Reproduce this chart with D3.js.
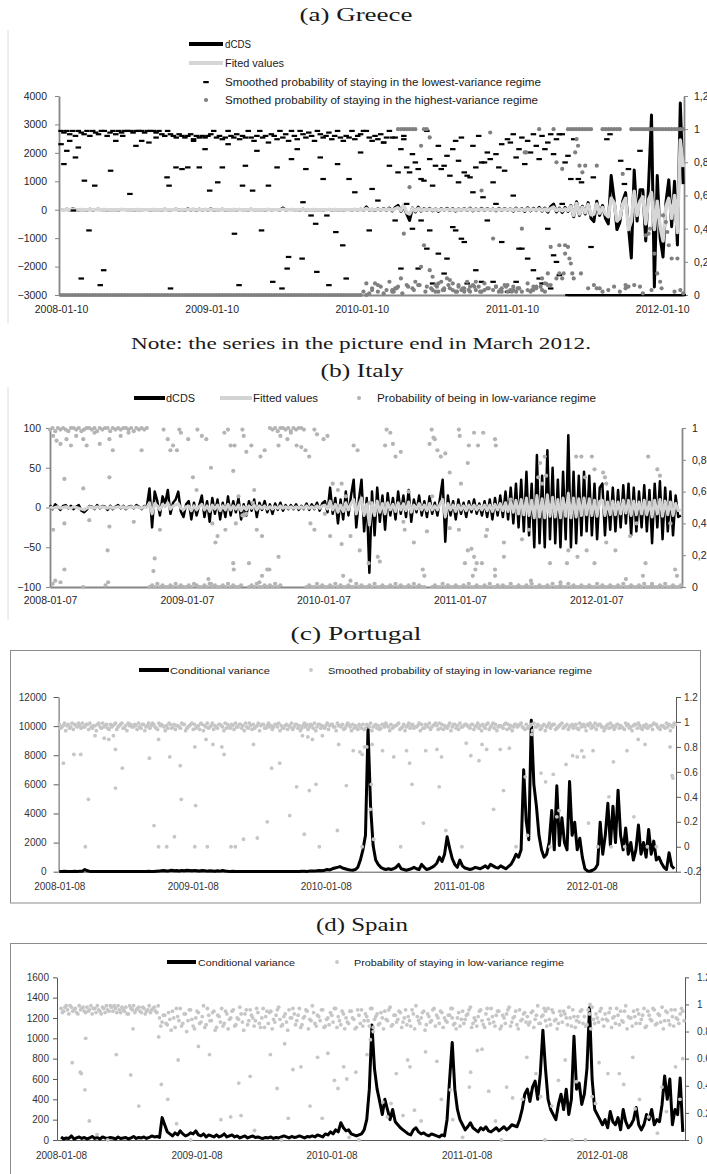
<!DOCTYPE html>
<html>
<head>
<meta charset="utf-8">
<script src="https://cdn.jsdelivr.net/npm/d3@7"></script>
<style>
  body { margin: 0; background: #fff; }
  svg { display: block; }
</style>
</head>
<body>
<svg id="chart" width="707" height="1174"></svg>
<script>

// (a) Greece, weekly from 2008-01-10
const grStart = '2008-01-10';
const grDcds = [10,-5,20,-10,30,5,-15,10,0,-8,
  15,-10,5,20,-5,10,-12,8,0,5, -10,12,5,-5,8,0,-6,10,-4,6,
  4,-8,10,-2,6,-10,14,0,-6,8, 20,-15,10,-20,30,-10,15,-25,20,-8,
  12,-10,25,-18,10,-6,15,-12,8,0, 10,-8,12,-5,6,-10,15,-6,8,-4,
  5,-10,12,-6,4,8,-8,60,-10,6, 10,-6,8,-12,15,-8,6,-4,10,-6,
  8,-10,6,12,-8,10,-6,4,-10,8, 6,-8,12,-10,20,-15,100,-20,15,-30,
  30,-20,40,-25,60,-40,80,150,-60,120, -150,-380,60,-80,90,-50,40,-30,50,-40,
  30,-60,40,-20,50,-30,40,-50,30,-20, 40,-30,60,-40,30,-25,50,-30,40,-20,
  30,-40,50,-30,40,-20,30,-50,60,-30, 40,-60,70,-40,50,-30,80,-50,60,-90,
  110,200,-80,60,-100,80,-60,150,-250,280, -200,120,-150,250,-300,-420,300,-200,150,-300,
  -500,1200,400,-700,-450,300,600,-600,-1700,1400, -400,700,700,-1100,900,3330,-2720,1200,-1000,-1660,
  250,1050,-600,1000,-1240,3750,900];
const grFit = [5,0,8,-3,10,2,-5,4,0,-3,
  6,-4,2,8,-2,4,-5,3,0,2, -4,5,2,-2,3,0,-2,4,-2,2,
  2,-3,4,-1,2,-4,5,0,-2,3, 8,-6,4,-8,12,-4,6,-10,8,-3,
  5,-4,10,-7,4,-2,6,-5,3,0, 4,-3,5,-2,2,-4,6,-2,3,-2,
  2,-4,5,-2,2,3,-3,20,-4,2, 4,-2,3,-5,6,-3,2,-2,4,-2,
  3,-4,2,5,-3,4,-2,2,-4,3, 2,-3,5,-4,8,-6,40,-8,6,-12,
  12,-8,16,-10,25,-15,30,70,-30,180, -100,-150,40,-40,40,-20,15,-12,20,-15,
  12,-25,15,-8,20,-12,15,-20,12,-8, 15,-12,25,-15,12,-10,20,-12,15,-8,
  12,-15,20,-12,15,-8,12,-20,25,-12, 15,-25,30,-15,20,-12,30,-20,25,-35,
  40,90,-30,25,-40,30,-25,120,-200,220, -150,80,-100,180,-180,-150,200,-120,80,-150,
  -250,400,250,-400,-300,200,400,-700,-400,650, -200,300,450,-500,350,600,-700,300,-600,-1100,
  100,400,-300,500,-800,2450,1500];
// smoothed probability of the lowest-variance regime (dashes)
const grLow = [0.99,0.98,0.99,0.97,0.99,0.96,0.99,0.98,0.97,0.99,
  0.96,0.99,0.98,0.97,0.99,0.99,0.96,0.98,0.99,0.97, 0.99,0.98,0.99,0.99,0.99,0.98,0.99,0.99,0.99,0.98,
  0.99,0.99,0.99,0.98,0.99,0.97,0.96,0.99,0.97,0.96, 0.95,0.97,0.96,0.95,0.96,0.97,0.94,0.96,0.95,0.96,
  0.95,0.96,0.97,0.99,0.95,0.96,0.94,0.95,0.99,0.96, 0.95,0.97,0.94,0.96,0.95,0.99,0.95,0.93,0.96,0.99,
  0.95,0.96,0.92,0.97,0.96,0.94,0.99,0.95,0.97,0.93, 0.99,0.96,0.94,0.99,0.97,0.95,0.98,0.96,0.93,0.99,
  0.97,0.95,0.96,0.98,0.94,0.96,0.99,0.95,0.93,0.96, 0.95,0.99,0.94,0.96,0.97,0.99,0.99,0.95,0.93,0.96,
  0.94,0.97,0.92,0.95,0.99,0.95,0.95,0.74,0.88,0.96, 0.77,0.74,0.85,0.8,0.76,0.7,0.69,0.99,0.82,0.66,
  0.78,0.9,0.76,0.78,0.84,0.72,0.88,0.93,0.81,0.95, 0.74,0.72,0.71,0.9,0.77,0.96,0.8,0.8,0.86,0.82,
  0.68,0.85,0.77,0.91,0.75,0.94,0.92,0.97,0.83,0.88, 0.95,0.79,0.93,0.86,0.97,0.9,0.82,0.96,0.88,0.92,
  0.97,0.85,0.94,0.97,0.97,0.8,0,0,0,0, 0,0,0,0,0,0,0,0,0,0,
  0,0,0,0,0,0,0,0,0,0, 0,0,0,0,0,0,0,0,0,0, 0,0,0,0,0,0,0];
const grLowExtra = [[0,0.91],[1,0.79],[2,0.87],[3,0.93],[4.3,0.51],[5,0.83],[6,0.89],[7,0.1],[8.1,0.69],
  [9.7,0.39],[11.7,0.66],[13.6,0.06],[14.8,0.15],[17.2,0.75],[19,0.93],[21.4,0.96],[23.9,0.61],[26,0.9],
  [28,0.93],[30.5,0.92],[33,0.95],[36.8,0.71],[37.5,0.66],[38,0.04],[39.9,0.77],[42,0.76],[44,0.77],
  [46,0.93],[48,0.77],[50,0.88],[51.6,0.63],[54.4,0.68],[56,0.77],[58,0.91],[60.2,0.37],[61.8,0.06],
  [63,0.66],[64,0.78],[66.5,0.63],[68,0.87],[69.6,0.39],[72,0.66],[73.5,0.08],[75,0.77],[76.7,0.04],
  [78.5,0.16],[79,0.23],[80,0.82],[82,0.88],[83.7,0.22],[84,0.56],[85,0.76],[86.8,0.48],[88.4,0.43],
  [88.8,0.14],[90,0.83],[91,0.7],[92.3,0.48],[93,0.06],[95.4,0.38],[96,0.79],[97.8,0.3],[99,0.1],
  [100,0.7],[102,0.62],[104,0.86],[107,0.39],[108,0.64],[110,0.57],[112,0.92],[114,0.78],[116,0.45],
  [118,0.16],[119,0.94],[120,0.55],[122,0.4],[124,0.16],[125,0.45],[127,0.28],[128,0.39],[129,0.07],
  [131,0.25],[133,0.13],[134,0.22],[136,0.41],[137,0.39],[138,0.68],[139,0.34],[140,0.32],[141,0.07],
  [143,0.62],[144,0.15],[146,0.08],[146.5,0.59],[148,0.45],[150,0.08],[151,0.55],[153,0.32],[155,0.02],
  [157,0.6],[158,0.08],[159,0.28],[160,0.28],[162,0.22],[164,0.15],[166,0.1],[167,0.07],[168,0.07],
  [169,0.4],[170,0.04],[171,0.24],[172,0.2],[173,0.12],[174,0.55],[176,0.84],[177,0.7],[178,0.94],
  [179.6,0.7],[180.7,0.68],[184,0.29],[184.8,0.71],[189.5,0.94],[190.6,0.97],[194.3,0.81],[195.6,0.67],
  [197,0.76],[201,0.87]];
// smoothed probability of the highest-variance regime (dots)
const grHigh = [0,0,0,0,0,0,0,0,0,0, 0,0,0,0,0,0,0,0,0,0, 0,0,0,0,0,0,0,0,0,0,
  0,0,0,0,0,0,0,0,0,0, 0,0,0,0,0,0,0,0,0,0, 0,0,0,0,0,0,0,0,0,0,
  0,0,0,0,0,0,0,0,0,0, 0,0,0,0,0,0,0,0,0,0, 0,0,0,0,0,0,0,0,0,0,
  0,0,0,0,0,0,0,0,0,0, 0,0,0,0,0,
  0.02,0,0.01,0.04,0.07,0.02,0.05,0.01,0.03,0.08,0.02,0.04,
  1,1,1,1,1,1,1, 0.06,0.9,1,1,0.95,0.03,
  0.06,0.02,0.08,0.03,0.1,0.04,0.07,0.02,0.05,0.03, 0.04,0.08,0.02,0.06,0.03,0.05,0.02,0.07,0.04,0.98,
  0.03,0.05,0.02,0.04,0.06,0.02,0.03,0.05,0.02,0.04, 0.4,0.86,0.03,0.02,0.05,0.04,1,0.03,0.02,0.06,
  0.29,1,0.8,0.13,0.1,0.3,1,1,1,1, 1,1,1,1,1,0.06,0.78,0.04,1,1,
  1,1,1,1,1,0.73,0.06,0.05,1,1, 1,1,1,1,1,1,1,1,1,1, 1,1,1,1,1,1,1];
const grHighExtra = [[106,0.07],[108,0.03],[110,0.06],[115,0.03],[115.5,0.02],[116.5,0.04],[117,0.05],
  [118,0.1],[118.5,0.01],[119,0.37],[120,0.06],[120.5,0.05],[121,0.65],[122,0.04],[122.5,0.03],[123,0.08],
  [124.5,0.06],[125,0.17],[126,0.3],[126.5,0.02],[127,0.05],[128,0.15],[128.5,0.04],[129,0.11],[130,0.02],
  [130.5,0.05],[131,0.07],[132.5,0.03],[133,0.04],[134.5,0.06],[135,0.09],[136,0.03],[137.5,0.02],
  [138,0.06],[139.5,0.04],[140,0.02],[141.5,0.03],[142,0.05],[143.5,0.05],[144,0.08],[145.5,0.02],
  [146,0.63],[147,0.03],[148.5,0.04],[150,0.34],[151,0.05],[152.5,0.03],[153,0.02],[154.5,0.05],[155,0.06],
  [156.5,0.02],[157,0.03],[158.5,0.04],[159,0.04],[160,0.02],[161.5,0.86],[162,0.07],[163.5,0.03],
  [164,0.03],[165,0.05],[166.5,0.05],[167,0.1],[168,0.07],[169,0.13],[170,0.06],[172,0.1],[173,0.3],
  [174,0.76],[174.5,0.13],[175,0.25],[176,0.29],[176.5,0.22],[177,0.19],[177.5,0.13],[178,0.1],
  [178.5,0.86],[179,0.94],[179.5,0.9],[180,0.78],[180.5,0.13],[181,0.74],[182,0.78],[183,0.04],[186,0.04],
  [188,0.02],[190,0.03],[192,0.05],[194,0.02],[196,0.04],[199,0.06],[201,0.05],[202,0.01],[203,0.36],
  [204,0.37],[204.5,0.4],[205,0.03],[206,0.25],[207,0.13],[208,0.08],[208.5,0.04],[209,0.48],[210,0.44],
  [210.5,0.38],[211,0.3],[212,0.22],[213,0.02],[214,0.22],[215,0.03],[216,0.01]];
const grLeftTicks = [-3000,-2000,-1000,0,1000,2000,3000,4000];
const grRightTicks = [0,0.2,0.4,0.6,0.8,1,1.2];
const grDateTicks = ['2008-01-10','2009-01-10','2010-01-10','2011-01-10','2012-01-10'];

// (b) Italy, weekly from 2008-01-07
const itStart = '2008-01-07';
const itDcds = [3,-2,4,1,-3,2,3,-1,2,-2, 1,3,-4,-6,-3,2,1,-2,3,-1, 2,1,-3,2,-2,1,3,-1,2,-2, 1,2,-1,3,1,-2,2,1,
  24,-25,20,8,-10,14,5,22,-8,6,10,20,-5,
  -12,4,8,-15,6,-10,3,15,-12,8,-18,12,-8,10,-15,6,-12,14,-10,8,
  -6,12,-15,4,-10,8,-4,10,-12,6,-3,8,-6,4,-8,5,-3,6,-4,3,
  -2,3,-2,4,-3,2,-2,5,-3,4,-2,6,-4,5,
  8,-6,25,-8,12,-20,10,-15,20,-10,15,35,-25,10,35,-30,12,-82,20,-35,25,-18,15,-28,18,-10,
  12,-15,20,-8,15,-12,22,-18,10,-6,15,-10,8,-12,14,-8,6,-10,12,35,
  -43,15,-10,8,-15,10,-8,6,-12,8,-6,10,-8,5,-10,8,-12,10,-15,12,
  -10,15,-12,20,-15,25,-20,30,-25,35, -30,45,-35,30,-50,66,-45,40,-50,72,
  -40,50,-45,35,-50,45,-40,91,-50,45, -45,40,-35,45,-30,40,-35,30,-40,25,
  30,-35,20,-28,25,-30,22,-25,28,-20,30,-35,25,-30,20,-25,28,-30,22,-45,
  30,-25,33,-40,25,-30,20,-35,15,-12,-10];
const itFit = [1,-1,0,1,-1,0,1,0,-1,1, 0,-1,-2,-3,-1,1,0,-1,1,0, 1,0,-1,1,-1,0,1,0,1,-1, 0,1,0,1,0,-1,1,0,
  6,-8,5,2,-3,4,1,6,-2,2,3,5,-1,
  -3,1,2,-4,2,-3,1,4,-3,2,-5,3,-2,3,-4,2,-3,4,-3,2,
  -2,3,-4,1,-3,2,-1,3,-3,2,-1,2,-2,1,-2,1,-1,2,-1,1,
  -1,1,-1,1,-1,1,-1,2,-1,1,-1,2,-1,2,
  3,-2,8,-3,4,-6,3,-5,6,-3,5,10,-8,3,12,-10,4,-22,6,-10,8,-6,5,-8,6,-3,
  4,-5,6,-3,5,-4,7,-6,3,-2,5,-3,3,-4,5,-3,2,-3,4,10,
  -12,5,-3,3,-5,3,-3,2,-4,3,-2,3,-3,2,-3,3,-4,3,-5,4,
  -3,5,-4,6,-5,8,-6,9,-8,10, -9,12,-10,9,-13,15,-12,11,-13,16,
  -11,13,-12,10,-13,12,-11,18,-13,12, -12,11,-10,12,-9,11,-10,9,-11,8,
  9,-10,7,-9,8,-9,7,-8,9,-7,9,-10,8,-9,7,-8,9,-9,7,-12,
  9,-8,10,-11,8,-9,7,-10,5,-4,-3];
// probability of being in the low-variance regime, in percent
const itProb = [99,100,98,100,99,100,99,98,100,100, 99,100,98,99,100,100,99,100,98,100,
  99,100,100,98,100,99,100,99,100,100, 99,100,98,100,99,100,99,100,
  0,1,0,2,0,1,0,0,1,0, 2,0,1,0,0,1,0,2,1,0, 0,1,0,2,0,1,0,0,1,0, 2,0,1,0,0,1,
  45,85, 0,1,0,2,0,0,1,0,
  100,99,100,98,100,100,99,100,98,100,99,100,100,99,
  0,1,0,0,2,0,1,0,0,1, 0,2,0,1,0,0,1,0,0,2, 0,1,0,0,1,0,2,0,0,1, 0,0,1,0,2,0,1,0,0,1, 0,2,0,1,0,0,
  35,90,
  0,1,0,0,2,0,1,0,0,1, 0,0,1,0,2,0,0,1,0,0, 1,0,2,0,0,1,0,1,0,0, 2,0,0,1,0,0,1,0,2,0,
  0,1,0,0,1,0,2,0,0,1, 0,0,2,0,1,0,0,1,0,0, 1,0,0,2,0,1,0,0,1,0, 0,1,0,2,0,0,1,0,0,1,
  0,2,0,0,1,0,0,1,0,2, 0,0,1,0,0,1];
const itExtra = [[1.2,95],[2.5,92],[4,90],[6.3,93],[8,89],[10,95],[12.7,93],[14,89],[17,97],[19,90],
  [22.7,93],[24,86],[27,95],[30,97],[5.5,68],[12.7,62],[22.7,69],[1.2,36],[5.5,40],[15,42],[22.7,38],
  [22,23],[21.2,1],[22.2,3],[5.5,11],[4,3],[1,2],[2,4],[12.7,0],[32,41],[35,86],
  [40,18],[39.5,10],[42,36],[43.4,99],[45,93],[46,86],[47,89],[48.5,86],[49.4,99],[50,97],[52.8,93],
  [54.6,69],[56,61],[56.3,99],[58,95],[59.7,93],[61.5,75],[62,40],[63.2,28],[64,32],[66.6,97],[67,36],
  [68,99],[69,89],[70,73],[70.5,89],[71,40],[72,57],[73.5,99],[74,95],[75,46],[76.9,89],[77.5,53],
  [78,61],[79,36],[80.4,82],[81,32],[82,86],[83,11],[60.5,5],[61.5,2],[70,15],[70.2,11],[73.5,45],
  [76,15],[83.8,11],[87.3,19],[81,7],[80,3],
  [87.3,89],[88,95],[90.7,93],[92,97],[94.2,89],[96,88],[97.6,86],[99,82],[101,99],[102,96],[104.5,93],
  [106,95],[108,65],[110,61],[111.4,65],[113,57],[101,36],[99.5,40],[105,46],[107,32],[111.4,27],
  [114.8,32],[112,7],[114.8,4],[118.3,23],[121.7,15],[125.2,19],[126,16],[116,89],[117.5,86],[128.6,99],
  [130,97],[128,89],[131,90],[132,82],[134,85],[135.5,36],[135,41],[139,28],[142.4,11],[143,7],
  [145.8,99],[146.5,94],[122,53],[137,60],
  [147,93],[148,86],[149.3,82],[151,84],[156.2,99],[156.5,95],[162,97],[165.5,97],[160,89],[163.5,89],
  [170,93],[170.3,89],[159.6,78],[157,65],[152.7,72],[146,57],[152.7,37],[156.2,36],[159.6,23],[161,24],
  [162,19],[163,15],[162.5,11],[161.5,7],[158.5,15],[165,15],[166.5,32],[167,36],[173.4,28],[173.4,19],
  [170,11],[170,7],[180.3,30],[183,36],[187.2,78],[189,82],[186.5,69],[188,65],[189.5,70],[183.7,4],
  [191,15],[176,55],
  [201,82],[203,82],[207,82],[208,74],[211.3,72],[212,69],[212.5,65],[204.4,69],[198,23],[201.5,19],
  [205,23],[197.5,15],[208,15],[212.5,28],[216,23],[221.6,32],[224,40],[228.5,82],[232,74],[233,70],
  [238.8,11],[239.5,7],[227.5,15],[226.5,7],[237,40],[195,3],[220,5],[230,2],
  [84,1],[85,0],[86,2],[87,0],[88,1]];
const itLeftTicks = [-100,-50,0,50,100];
const itRightTicks = [0,0.2,0.4,0.6,0.8,1];
const itDateTicks = ['2008-01-07','2009-01-07','2010-01-07','2011-01-07','2012-01-07'];

// (c) Portugal, weekly from 2008-01-08
const ptStart = '2008-01-08';
const ptVar = [20,15,25,10,20,15,30,20,25,30, 150,60,20,15,10,20,15,10,20,15,
  10,15,20,10,15,20,10,15,10,20, 15,10,20,15,10,25,20,15,30,40,
  60,80,50,70,100,60,80,50,90,70, 100,80,60,90,70,50,80,60,40,70,
  50,30,60,40,80,50,30,20,30,20, 15,20,10,15,20,10,15,20,10,15,
  10,15,20,10,15,10,20,15,10,15, 20,15,10,15,20,25,30,20,40,50,
  40,60,80,60,100,150,120,200,250,300, 350,250,200,150,120,100,150,300,800,1500,
  2500,9850,4500,1800,800,500,300,200,150,200, 150,200,300,500,200,150,100,150,200,300,
  200,150,500,300,150,200,300,400,600,1000, 700,1200,2400,1600,900,500,300,800,400,250,
  200,150,200,300,250,200,300,400,250,500, 400,300,250,400,300,200,350,500,800,1200,
  1000,1500,7000,3500,2200,10400,6000,4500,2500,1500, 1000,1200,2000,4200,1500,5900,1800,3700,2000,1500,
  6200,2500,3400,1500,2300,1000,200,50,30,100, 200,500,3400,1200,2500,4700,1800,4500,2000,5600,
  2500,1500,3000,1200,2000,800,1500,3200,1200,2000, 1000,2900,1200,2100,800,1000,600,300,150,1300,
  400,200];
// smoothed probability of staying in the low-variance regime, in percent (two readings per week)
const ptProbA = [98,96,99,97,95,99,98,96,97,99, 96,98,99,95,97,98,96,99,97,95,
  98,97,99,96,98,95,97,99,98,96, 97,99,95,98,96,99,97,98,95,99, 98,96,97,99,95,98,97,96,99,98,
  95,97,99,98,96,94,98,97,99,96, 99,97,95,98,96,99,98,95,97,99, 96,98,97,99,95,97,98,96,99,97,
  98,95,99,97,96,98,99,97,95,98, 97,99,96,98,97,95,99,98,96,97, 99,96,98,97,95,99,97,98,96,99,
  97,98,95,99,96,98,97,94,96,98, 95,97,99,96,98,97,95,98,99,96, 98,96,97,99,95,98,96,99,97,95,
  96,99,98,95,97,99,96,98,97,99, 98,97,95,99,96,98,97,99,96,98, 97,95,98,96,99,97,98,95,99,96,
  99,98,96,97,95,99,98,97,96,98, 97,99,95,98,96,98,99,96,97,95, 98,96,99,97,98,95,97,99,96,98,
  96,98,97,95,99,97,96,98,99,97, 99,97,98,96,95,98,99,97,96,98, 97,95,99,98,96,97,98,99,95,97,
  98,96,97,99,98,95,97,96,99,98, 97,99];
const ptProbB = [95,97,93,98,96,94,97,99,95,96, 98,94,96,97,93,99,95,96,98,94,
  96,98,94,97,99,95,93,97,96,98, 94,96,98,93,97,95,99,96,94,97, 97,93,95,98,96,94,97,95,98,93,
  96,98,94,95,97,99,93,96,95,97, 94,96,98,97,93,95,96,98,94,96, 98,95,93,96,99,94,95,97,93,98,
  95,97,96,94,98,96,93,95,97,94, 96,94,98,95,93,97,96,94,98,95, 93,98,95,96,97,94,98,96,93,97,
  96,94,97,98,93,95,96,98,95,94, 98,96,93,97,95,94,98,96,97,93, 95,97,98,94,96,93,97,95,98,96,
  97,93,95,98,96,94,97,99,94,95, 94,96,97,93,98,95,94,96,97,98, 96,98,94,97,95,93,96,98,94,97,
  95,93,97,96,98,94,95,93,98,96, 98,96,94,95,97,93,96,98,94,97, 93,97,95,98,94,96,98,95,97,94,
  97,95,98,94,96,98,93,97,95,96, 94,98,96,93,97,95,96,94,98,95, 96,94,97,95,93,98,95,97,94,96,
  95,97,94,98,96,94,97,95,96,93, 96,98];
const ptExtra = [[1.6,67],[5.7,74],[8.4,74],[10.2,0],[11.4,38],[14,89],[17.6,87],[19.4,86],[21.2,89],
  [22,78],[24.7,63],[22,47],[35.3,71],[37.1,17],[38.9,86],[38.9,0],[42.1,0],[45.1,8],[43.3,72],[47.4,65],
  [47.8,38],[53.1,80],[53.4,33],[53.1,0],[58,0],[57.5,86],[60.2,82],[63.7,80],[64.6,74],[67.3,0],[69,0],
  [72.2,6],[76.1,82],[77.6,7],[81.5,20],[83.2,63],[86.4,67],[90.3,25],[93,48],[95.3,89],[97.4,88],
  [99.2,86],[98,45],[96,10],[100.6,50],[101.9,0],[103.1,89],[109,13],[109.5,82],[112.5,49],[115.2,77],
  [117.8,76],[118.7,0],[118.7,74],[119.6,80],[120.5,80],[121.9,30],[122.3,50],[122.6,82],[123.2,6],
  [126.7,77],[131.1,72],[133.8,0],[136.1,77],[137.3,67],[138.2,50],[142.7,19],[143.6,77],[148,78],
  [148.9,48],[149.8,72],[151.5,13],[157.8,0],[159.5,83],[161.3,73],[164.5,69],[165.7,82],[167.5,78],
  [170.2,30],[172.8,78],[174.1,45],[176.4,79],[179,0],[182.6,56],[183.5,9],[185.2,90],[188.8,59],
  [190.6,52],[192.3,0],[193.6,58],[195,24],[195.9,29],[198.6,66],[201.2,73],[203,72],[204.8,77],
  [205.6,72],[207.4,19],[209.2,77],[211,0],[215.4,40],[216.3,0],[217.2,68],[221.6,0],[222.5,77],
  [225.2,24],[226.9,86],[229.6,82],[230.5,0],[234,0],[239.4,80],[240.2,57],[240.5,55]];
const ptLeftTicks = [0,2000,4000,6000,8000,10000,12000];
const ptRightTicks = [-0.2,0,0.2,0.4,0.6,0.8,1,1.2];
const ptDateTicks = ['2008-01-08','2009-01-08','2010-01-08','2011-01-08','2012-01-08'];

// (d) Spain, weekly from 2008-01-08
const spStart = '2008-01-08';
const spVar = [30,10,20,15,40,10,20,30,15,25, 10,20,35,15,25,10,30,20,15,25,
  20,10,30,15,20,25,10,20,35,15, 25,20,30,15,25,40,30,35,25,220,
  150,80,60,40,70,50,90,60,40,50, 70,60,90,50,40,60,30,50,40,30,
  50,30,40,60,30,40,50,30,40,20, 30,40,20,30,40,25,30,20,15,25,
  20,30,15,25,20,30,40,30,20,35, 25,30,40,30,20,35,30,40,30,50,
  40,30,60,50,80,60,100,80,170,120, 90,100,60,50,40,50,60,100,200,500,
  1130,700,500,380,250,400,300,200,300,180, 150,120,100,80,60,50,100,120,80,60,
  70,50,40,60,50,40,30,50,40,200, 600,960,500,300,200,150,100,130,170,120,
  100,80,120,100,130,90,80,100,120,90, 110,130,100,120,150,140,130,200,300,450,
  500,380,520,580,400,650,1080,700,400,300, 250,200,350,450,300,500,250,400,1020,500,
  560,350,450,700,1300,600,300,250,200,150, 200,120,280,180,150,220,100,300,180,120,
  150,200,320,150,100,150,250,200,300,150, 200,180,350,630,400,600,150,300,250,610,
  80];
// probability of staying in the low-variance regime, in percent (two readings per week)
const spProbA = [97,95,99,93,98,96,94,99,97,95, 98,96,93,97,99,95,98,94,96,99,
  95,97,99,94,96,98,93,97,99,96, 98,94,97,95,99,96,98,94,90,87, 92,85,89,95,83,91,97,86,93,88,
  96,84,90,94,87,99,85,92,88,95, 83,91,97,86,93,89,95,84,90,98, 87,93,85,96,90,88,94,83,97,91,
  86,95,89,92,98,84,91,87,96,90, 93,88,97,85,91,95,89,99,86,92, 88,96,84,90,94,87,97,91,85,93,
  90,86,95,89,83,92,96,88,91,84, 97,89,93,86,90,95,88,98,85,92, 89,94,87,96,91,84,93,99,88,90,
  95,85,91,88,97,92,86,94,90,87, 92,97,86,90,84,95,89,93,98,86, 88,91,96,85,93,89,97,87,92,95,
  84,90,93,98,87,91,85,96,89,94, 91,87,95,89,99,86,92,88,97,85, 94,89,86,92,95,90,98,84,91,88,
  87,96,91,85,93,98,86,90,95,89, 93,88,97,90,86,92,95,87,99,91, 90,95,86,93,89,97,84,92,88,96,
  86,92,98,88,94,85,91,96,89,93, 95];
const spProbB = [94,98,96,99,95,97,93,96,98,94, 95,99,97,94,96,93,97,99,95,98,
  99,94,96,98,95,93,99,96,94,97, 95,98,93,96,94,97,95,99,84,92, 86,94,81,90,97,88,84,93,80,96,
  89,82,95,86,91,83,97,88,94,81, 92,87,84,95,82,90,96,85,89,93, 81,96,88,92,84,97,86,90,83,95,
  94,82,87,96,89,85,93,81,90,97, 85,92,83,90,96,82,88,94,84,91, 96,83,89,85,92,97,83,88,95,82,
  87,95,90,82,96,86,84,93,88,97, 83,91,85,94,82,89,96,84,92,87, 95,83,90,85,88,96,82,91,86,94,
  81,93,87,96,84,90,95,83,88,92, 97,85,82,94,89,86,92,96,83,90, 84,95,88,83,97,86,91,84,95,82,
  92,86,96,84,90,95,82,88,93,87, 85,94,83,92,86,91,97,84,89,96, 88,82,95,87,93,85,90,96,83,91,
  95,86,84,96,82,89,93,87,97,84, 89,94,83,91,97,85,88,95,82,90, 84,91,96,86,92,83,95,89,97,85,
  93,87,82,95,88,96,84,90,86,97, 88];
const spExtra = [[4.3,57],[7.4,50],[7.8,49],[9.2,37],[9.5,75],[10.9,14],[13.9,4],[21.3,63],[26.9,48],
  [27.8,82],[30,25],[37.7,76],[38.7,41],[41.2,30],[44.6,12],[45.2,59],[53,69],[57.3,63],[61.7,15],
  [65.5,17],[68.6,42],[69.5,18],[73,47],[74.7,7],[80.8,63],[83.4,38],[86.3,71],[87.7,16],[89.5,52],
  [92.6,54],[96.1,25],[99,61],[100.8,16],[103,64],[105.5,44],[106.9,38],[109.1,54],[110.3,45],[111.2,2],
  [113.8,50],[118.1,63],[119.4,74],[124.2,28],[126,17],[127.4,27],[129.4,49],[132,18],[133.8,59],
  [134.7,54],[136.4,22],[139,14],[140.7,65],[145.1,58],[146.8,30],[150.3,37],[151.2,15],[157.6,39],
  [158.1,50],[160.7,66],[162.5,67],[165.1,36],[167.7,14],[172,39],[174.3,31],[178.1,30],[179.8,61],
  [183.3,49],[185.1,32],[186.8,0],[189.4,25],[192,44],[194.6,59],[197.2,0],[199,43],[202.4,0],[205,32],
  [206.3,27],[207.7,57],[211.1,49],[215.5,49],[217.2,41],[220.7,61],[221.6,23],[223.3,30],[226.8,17],
  [230.2,5],[232,39],[233.7,21],[237.2,54],[238.9,30],[240,60],[18,0],[50,0],[85,0],[115,0],[155,2],
  [170,0],[120.5,80],[151,90],[187,95],[204.2,100]];
const spLeftTicks = [0,200,400,600,800,1000,1200,1400,1600];
const spRightTicks = [0,0.2,0.4,0.6,0.8,1,1.2];
const spDateTicks = ['2008-01-08','2009-01-08','2010-01-08','2011-01-08','2012-01-08'];

// ---------- drawing ----------
const svg = d3.select('#chart');
const parse = d3.timeParse('%Y-%m-%d');
const fmtDate = d3.timeFormat('%Y-%m-%d');
const DAY = 864e5;
const week = (start, i) => new Date(parse(start).getTime() + i * 7 * DAY);
const comma = d => String(+d.toFixed(1)).replace('.', ',');
const point = d => String(+d.toFixed(1));

const SANS = '"Liberation Sans", Arial, sans-serif';
const SERIF = '"Liberation Serif", "DejaVu Serif", serif';

// text squeezed/stretched to the width it has in the picture
function fitText(x, y, str, w, size, family, anchor) {
  const left = anchor === 'middle' ? x - w / 2 : x;
  return svg.append('text')
    .attr('x', left).attr('y', y)
    .attr('textLength', w).attr('lengthAdjust', 'spacingAndGlyphs')
    .style('font-family', family).style('font-size', size + 'px')
    .attr('fill', '#1a1a1a')
    .text(str);
}

function axes(o) {
  const g = svg.append('g');
  g.append('g')
    .attr('transform', `translate(0,${o.bottom})`)
    .call(d3.axisBottom(o.x).tickValues(o.dates.map(parse)).tickFormat(fmtDate)
      .tickSize(0).tickSizeOuter(0).tickPadding(o.xPad));
  g.append('g')
    .attr('transform', `translate(${o.x.range()[0]},0)`)
    .call(d3.axisLeft(o.yL).tickValues(o.leftTicks).tickFormat(d3.format('d'))
      .tickSize(o.tick).tickSizeOuter(0).tickPadding(o.lPad));
  g.append('g')
    .attr('transform', `translate(${o.x.range()[1]},0)`)
    .call(d3.axisRight(o.yR).tickValues(o.rightTicks).tickFormat(o.rightFmt)
      .tickSize(o.tick).tickSizeOuter(0).tickPadding(o.rPad));
  g.selectAll('.domain').attr('stroke', o.color).attr('stroke-width', o.lineW);
  g.selectAll('.tick line').attr('stroke', o.color).attr('stroke-width', o.tickW);
  g.selectAll('text').attr('fill', o.textColor)
    .style('font-family', SANS).style('font-size', o.fontSize + 'px');
  return g;
}

function linePath(data, start, x, y, color, width) {
  svg.append('path')
    .datum(data)
    .attr('d', d3.line().x((d, i) => x(week(start, i))).y(d => y(d)))
    .attr('fill', 'none').attr('stroke', color).attr('stroke-width', width)
    .attr('stroke-linejoin', 'round');
}

function dots(rows, x, y, r, color) {
  svg.append('g').selectAll('circle')
    .data(rows)
    .join('circle')
    .attr('cx', d => x(d[0])).attr('cy', d => y(d[1]))
    .attr('r', r).attr('fill', color);
}

// ===== (a) Greece =====
fitText(356, 21, '(a) Greece', 113, 18, SERIF, 'middle');
svg.append('line').attr('x1', 8).attr('x2', 8).attr('y1', 30).attr('y2', 323).attr('stroke', '#dcdcdc');

const grX = d3.scaleTime().domain([parse('2008-01-05'), parse('2012-03-03')]).range([59, 684]);
const grY = d3.scaleLinear().domain([-3000, 4000]).range([295, 96]);
const grP = d3.scaleLinear().domain([0, 1.2]).range([295, 96]);

axes({x: grX, yL: grY, yR: grP, bottom: 295, dates: grDateTicks, leftTicks: grLeftTicks,
  rightTicks: grRightTicks, rightFmt: comma, tick: 4, xPad: 11, lPad: 8, rPad: 6,
  color: '#868686', lineW: 1.8, tickW: 1, textColor: '#262626', fontSize: 10.5});

linePath(grDcds, grStart, grX, grY, '#000', 3);
linePath(grFit, grStart, grX, grY, '#d6d6d6', 3.5);

const grLowRows = grLow.map((p, i) => [i, p]).concat(grLowExtra);
svg.append('g').selectAll('rect')
  .data(grLowRows)
  .join('rect')
  .attr('x', d => grX(week(grStart, d[0])) - 2.75)
  .attr('y', d => grP(d[0] >= 0 ? d[1] : 0) - 1)
  .attr('width', 5.5).attr('height', 2.2).attr('fill', '#000');

const grHighRows = grHigh.map((p, i) => [i, p]).concat(grHighExtra);
dots(grHighRows, i => grX(week(grStart, i)), grP, 2.1, '#808080');

// legend
svg.append('line').attr('x1', 189).attr('x2', 223).attr('y1', 44).attr('y2', 44)
  .attr('stroke', '#000').attr('stroke-width', 4);
fitText(225, 47.5, 'dCDS', 26, 10, SANS);
svg.append('line').attr('x1', 189).attr('x2', 223).attr('y1', 63).attr('y2', 63)
  .attr('stroke', '#d6d6d6').attr('stroke-width', 4);
fitText(225, 66.5, 'Fited values', 59, 10, SANS);
svg.append('rect').attr('x', 203.25).attr('y', 81).attr('width', 5.5).attr('height', 2.2).attr('fill', '#000');
fitText(225, 85.5, 'Smoothed probability of staying in the lowest-variance regime', 316, 10, SANS);
svg.append('circle').attr('cx', 206).attr('cy', 100).attr('r', 2.1).attr('fill', '#808080');
fitText(225, 103.5, 'Smothed probability of staying in the highest-variance regime', 313, 10, SANS);

fitText(361, 349, 'Note: the series in the picture end in March 2012.', 460, 16, SERIF, 'middle');

// ===== (b) Italy =====
fitText(362, 377, '(b) Italy', 83, 18, SERIF, 'middle');
svg.append('line').attr('x1', 8).attr('x2', 8).attr('y1', 387).attr('y2', 620).attr('stroke', '#dcdcdc');

const itX = d3.scaleTime().domain([parse('2008-01-07'), parse('2012-08-23')]).range([50, 682]);
const itY = d3.scaleLinear().domain([-100, 100]).range([587, 428]);
const itP = d3.scaleLinear().domain([0, 1]).range([587, 428]);

axes({x: itX, yL: itY, yR: itP, bottom: 587, dates: itDateTicks, leftTicks: itLeftTicks,
  rightTicks: itRightTicks, rightFmt: comma, tick: 4, xPad: 10, lPad: 5, rPad: 6,
  color: '#868686', lineW: 1.8, tickW: 1, textColor: '#262626', fontSize: 10.5});

linePath(itDcds, itStart, itX, itY, '#000', 2.5);
linePath(itFit, itStart, itX, itY, '#d3d3d3', 3);
const itRows = itProb.map((p, i) => [i, p]).concat(itExtra);
dots(itRows, i => itX(week(itStart, i)), p => itP(p / 100), 2.1, '#b4b4b4');

svg.append('line').attr('x1', 134).attr('x2', 165).attr('y1', 398).attr('y2', 398)
  .attr('stroke', '#000').attr('stroke-width', 4);
fitText(166, 401.5, 'dCDS', 29, 10, SANS);
svg.append('line').attr('x1', 220).attr('x2', 252).attr('y1', 398).attr('y2', 398)
  .attr('stroke', '#d3d3d3').attr('stroke-width', 4);
fitText(253, 401.5, 'Fitted values', 65, 10, SANS);
svg.append('circle').attr('cx', 359).attr('cy', 398).attr('r', 2.1).attr('fill', '#b4b4b4');
fitText(377, 401.5, 'Probability of being in low-variance regime', 219, 10, SANS);

// ===== (c) Portugal =====
fitText(356, 640, '(c) Portugal', 131, 18, SERIF, 'middle');
svg.append('rect').attr('x', 10.5).attr('y', 650.5).attr('width', 690).attr('height', 252.5)
  .attr('fill', 'none').attr('stroke', '#8c8c8c');

const ptX = d3.scaleTime().domain([parse('2008-01-06'), parse('2012-08-26')]).range([58.6, 676]);
const ptY = d3.scaleLinear().domain([0, 12000]).range([871.7, 697]);
const ptP = d3.scaleLinear().domain([-0.2, 1.2]).range([871.7, 697]);

axes({x: ptX, yL: ptY, yR: ptP, bottom: 871.7, dates: ptDateTicks, leftTicks: ptLeftTicks,
  rightTicks: ptRightTicks, rightFmt: point, tick: 5, xPad: 11, lPad: 7, rPad: 3,
  color: '#595959', lineW: 1, tickW: 1, textColor: '#333', fontSize: 10});

linePath(ptVar, ptStart, ptX, ptY, '#000', 3);
const ptRows = ptProbA.map((p, i) => [i, p])
  .concat(ptProbB.map((p, i) => [i + 0.5, p]))
  .concat(ptExtra);
dots(ptRows, i => ptX(week(ptStart, i)), p => ptP(p / 100), 1.9, '#c6c6c6');

svg.append('line').attr('x1', 139).attr('x2', 169).attr('y1', 670).attr('y2', 670)
  .attr('stroke', '#000').attr('stroke-width', 4);
fitText(170, 673.5, 'Conditional variance', 100, 9.5, SANS);
svg.append('circle').attr('cx', 311).attr('cy', 670).attr('r', 1.9).attr('fill', '#c6c6c6');
fitText(328, 673.5, 'Smoothed probability of staying in low-variance regime', 264, 9.5, SANS);

// ===== (d) Spain =====
fitText(362, 931, '(d) Spain', 92, 18, SERIF, 'middle');
svg.append('rect').attr('x', 10.5).attr('y', 943.5).attr('width', 720).attr('height', 300)
  .attr('fill', 'none').attr('stroke', '#8c8c8c');

const spX = d3.scaleTime().domain([parse('2007-12-28'), parse('2012-08-20')]).range([57, 685]);
const spY = d3.scaleLinear().domain([0, 1600]).range([1140, 977.3]);
const spP = d3.scaleLinear().domain([0, 1.2]).range([1140, 977.3]);

axes({x: spX, yL: spY, yR: spP, bottom: 1140, dates: spDateTicks, leftTicks: spLeftTicks,
  rightTicks: spRightTicks, rightFmt: point, tick: 4, xPad: 12, lPad: 4, rPad: 8,
  color: '#595959', lineW: 1, tickW: 1, textColor: '#333', fontSize: 10});

linePath(spVar, spStart, spX, spY, '#000', 3);
const spRows = spProbA.map((p, i) => [i, p])
  .concat(spProbB.map((p, i) => [i + 0.5, p]))
  .concat(spExtra);
dots(spRows, i => spX(week(spStart, i)), p => spP(p / 100), 1.9, '#c6c6c6');

svg.append('line').attr('x1', 167).attr('x2', 196).attr('y1', 962).attr('y2', 962)
  .attr('stroke', '#000').attr('stroke-width', 4);
fitText(198, 965.5, 'Conditional variance', 97, 9.5, SANS);
svg.append('circle').attr('cx', 337).attr('cy', 962).attr('r', 1.9).attr('fill', '#c6c6c6');
fitText(354, 965.5, 'Probability of staying in low-variance regime', 210, 9.5, SANS);
</script>
</body>
</html>
